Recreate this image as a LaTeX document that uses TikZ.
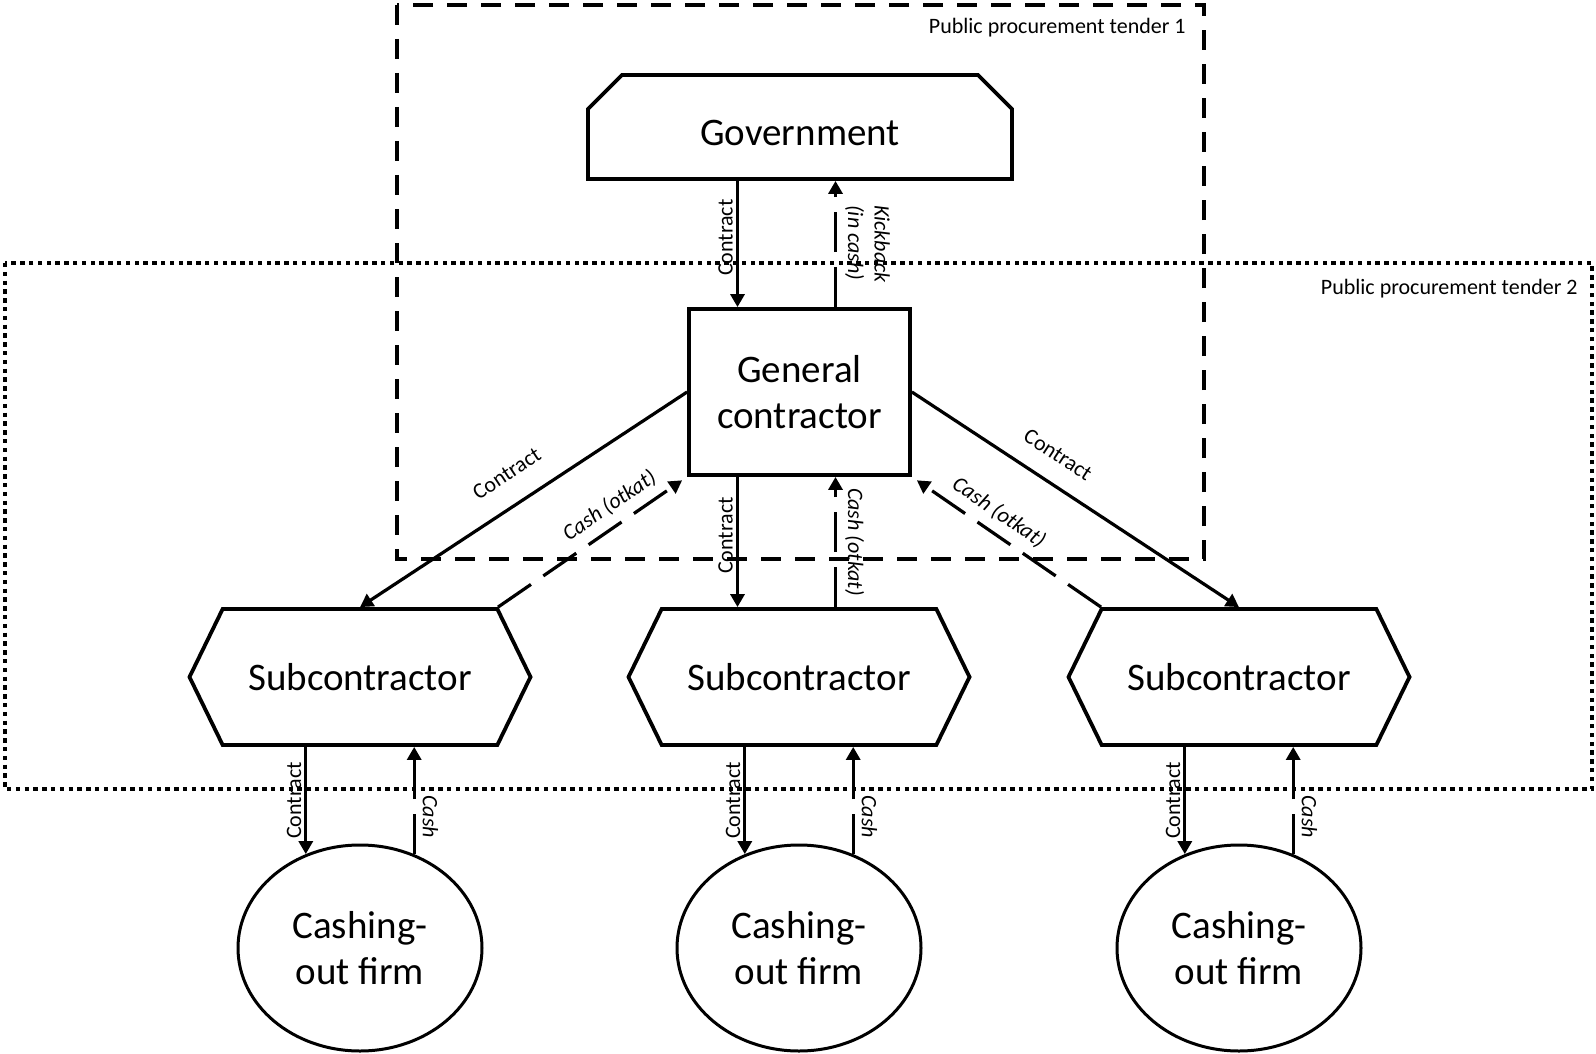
\documentclass[tikz,border=0pt]{standalone}
\usepackage{fontspec}
\setmainfont{Carlito}
\usetikzlibrary{arrows.meta,shapes.geometric,shapes.misc,shapes.symbols}

\tikzset{
  big/.style={font=\fontsize{19.5}{23}\selectfont, align=center},
  lbl/.style={font=\fontsize{11}{13.2}\selectfont, inner sep=1.5pt},
  cashlbl/.style={lbl, font=\fontsize{11}{13.2}\selectfont\itshape},
  con/.style={line width=1.6pt, -{Triangle[length=6.5pt,width=7pt]}},
  cash/.style={con, dash pattern=on 20pt off 7.5pt},
  sub/.style={big, draw, line width=1.9pt, signal, signal to=east and west,
    signal pointer angle=128, minimum width=170.5pt, minimum height=68pt},
  firm/.style={big, draw, line width=1.5pt, ellipse, minimum width=122pt,
    minimum height=103pt, inner sep=0pt}
}

\begin{document}
\begin{tikzpicture}[x=0.5pt,y=-0.5pt]
\useasboundingbox (0,0) rectangle (1596,1054);
\draw[line width=2pt, dash pattern=on 10pt off 7pt] (397,5) rectangle (1204,559);
\draw[line width=2.2pt, dash pattern=on 2.2pt off 2.2pt] (5,263) rectangle (1592,789);
\node[lbl, anchor=east] (tender1) at (1189,28) {Public procurement tender 1};
\node[lbl, anchor=east] (tender2) at (1581,289) {Public procurement tender 2};

\node[big, draw, line width=1.9pt, chamfered rectangle,
  chamfered rectangle corners={north west,north east},
  chamfered rectangle xsep=8.5pt, chamfered rectangle ysep=8.5pt,
  text height=19pt, minimum width=212pt, minimum height=52pt]
  (gov) at (800,127) {Government};
\node[big, draw, line width=1.9pt, minimum width=110.5pt, minimum height=83pt]
  (gc) at (799.5,392) {\raisebox{-1.75pt}{General}\\\raisebox{-1.75pt}{contractor}};

\foreach \i/\x in {1/360,2/799,3/1239}{
  \node[sub] (sub\i) at (\x,677) {Subcontractor};
  \node[firm] (firm\i) at (\x,948) {Cashing-\\out firm};
  \draw[con] (firm\i.120 |- sub\i.south) -- (firm\i.120)
    node[midway, lbl, rotate=90, anchor=south] {Contract};
  \draw[cash] (firm\i.60) -- (firm\i.60 |- sub\i.south)
    node[pos=0.35, cashlbl, inner sep=3.5pt, rotate=-90, anchor=south] {Cash};
}

\draw[con] ([xshift=-31pt]gc.north |- gov.south) -- ([xshift=-31pt]gc.north)
  node[pos=0.45, lbl, rotate=90, anchor=south] {Contract};
\draw[cash] ([xshift=18pt]gc.north) -- ([xshift=18pt]gc.north |- gov.south)
  node[midway, cashlbl, inner sep=4pt, rotate=-90, anchor=south, align=left]
  {Kickback\\(in cash)};
\draw[con] ([xshift=-31pt]gc.south) -- ([xshift=-31pt]gc.south |- sub2.north)
  node[pos=0.45, lbl, rotate=90, anchor=south] {Contract};
\draw[cash] ([xshift=18pt]gc.south |- sub2.north) -- ([xshift=18pt]gc.south)
  node[midway, cashlbl, inner sep=4pt, rotate=-90, anchor=south] {Cash (otkat)};

\draw[con] (gc.west) -- (sub1.north)
  node[pos=0.5, lbl, sloped, above=9.5pt] {Contract};
\draw[cash, shorten >=3pt] ([xshift=69pt]sub1.north) -- (gc.south west)
  node[pos=0.65, cashlbl, sloped, above=3pt] {Cash (otkat)};
\draw[con] (gc.east) -- (sub3.north)
  node[pos=0.4, lbl, sloped, above=8pt] {Contract};
\draw[cash, shorten >=3pt] ([xshift=-69pt]sub3.north) -- (gc.south east)
  node[pos=0.6, cashlbl, sloped, above=3pt] {Cash (otkat)};
\end{tikzpicture}
\end{document}
